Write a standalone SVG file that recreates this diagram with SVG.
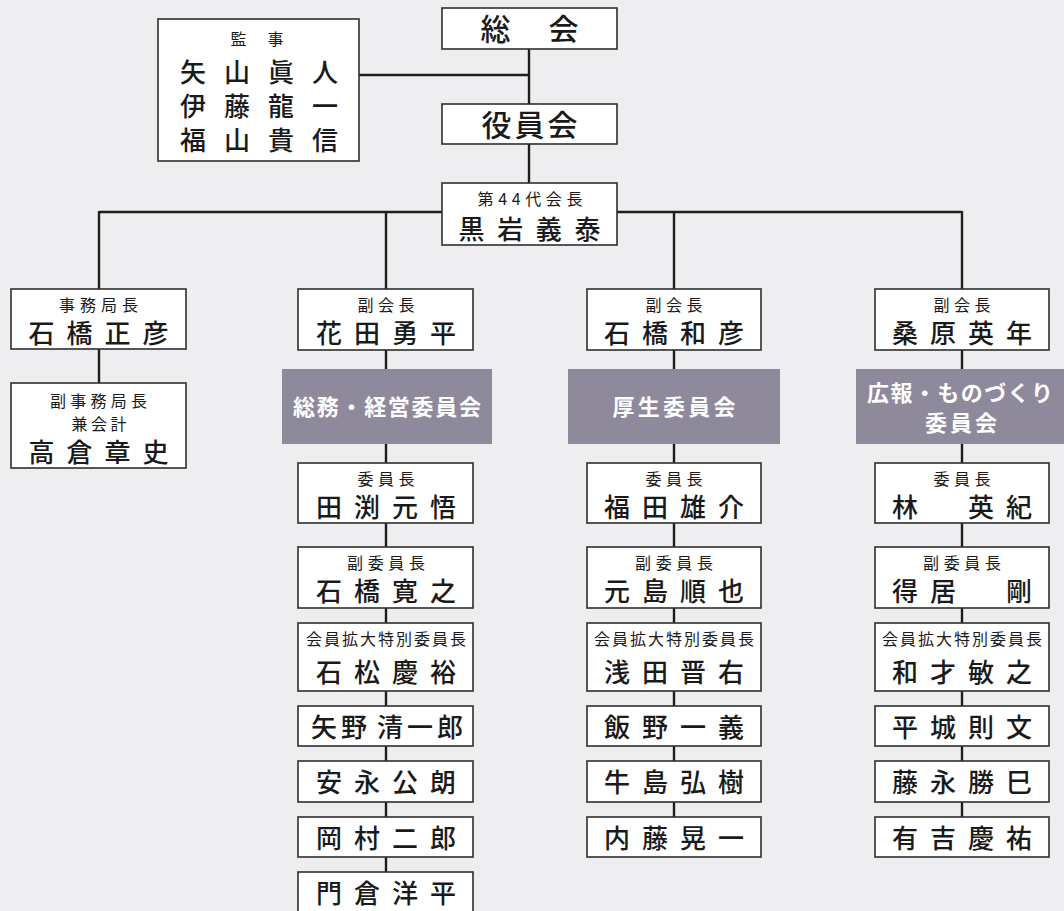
<svg xmlns="http://www.w3.org/2000/svg" width="1064" height="911" viewBox="0 0 1064 911">
<style>
.bg{fill:#eeeef1}
.box{fill:#ffffff;stroke:#2e2e2e;stroke-width:1.6}
.gray{fill:#8e899b}
.conn{stroke:#1e1e1e;stroke-width:2.4;fill:none}
text{font-family:"Noto Sans CJK JP","Noto Sans CJK SC",sans-serif;text-anchor:middle;fill:#1a1a1a}
.t{font-size:16px}
.n{font-size:26px;font-weight:500}
.big{font-size:30px;font-weight:500}
.g{font-size:22px;font-weight:700;fill:#ffffff}
</style>
<rect class="bg" x="0" y="0" width="1064" height="911"/>
<g id="connectors">
<line class="conn" x1="529" y1="49" x2="529" y2="104"/>
<line class="conn" x1="359" y1="75" x2="529" y2="75"/>
<line class="conn" x1="529" y1="144" x2="529" y2="183"/>
<line class="conn" x1="99" y1="212" x2="442" y2="212"/>
<line class="conn" x1="617" y1="212" x2="962" y2="212"/>
<line class="conn" x1="99" y1="211" x2="99" y2="289"/>
<line class="conn" x1="386" y1="212" x2="386" y2="289"/>
<line class="conn" x1="674" y1="212" x2="674" y2="289"/>
<line class="conn" x1="962" y1="211" x2="962" y2="289"/>
<line class="conn" x1="99" y1="349" x2="99" y2="383"/>
<path class="conn" d="M386 350V369M386 444V463M386 523V547M386 608V623M386 691V706M386 746V761M386 802V817M386 857V872"/>
<path class="conn" d="M674 350V369M674 444V463M674 523V547M674 608V623M674 691V706M674 746V761M674 802V817"/>
<path class="conn" d="M962 350V369M962 444V463M962 523V547M962 608V623M962 691V706M962 746V761M962 802V817"/>
</g>
<g id="soukai"><rect class="box" x="442" y="8" width="175" height="41"/><text class="big" x="529.5" y="40" textLength="98" lengthAdjust="spacing">総　会</text></g>
<g id="kanji"><rect class="box" x="158" y="19" width="201" height="142"/>
<text class="t" x="257" y="45" textLength="53" lengthAdjust="spacing">監　事</text>
<text class="n" x="259" y="82" textLength="158" lengthAdjust="spacing">矢山眞人</text>
<text class="n" x="259" y="116" textLength="158" lengthAdjust="spacing">伊藤龍一</text>
<text class="n" x="259" y="150" textLength="158" lengthAdjust="spacing">福山貴信</text></g>
<g id="yakuinkai"><rect class="box" x="442" y="104" width="175" height="40"/><text class="big" x="529.5" y="136" textLength="96" lengthAdjust="spacing">役員会</text></g>
<g id="kaicho"><rect class="box" x="442" y="183" width="175" height="62"/>
<text class="t" x="530" y="205" textLength="105" lengthAdjust="spacing">第44代会長</text>
<text class="n" x="529.5" y="239" textLength="142" lengthAdjust="spacing">黒岩義泰</text></g>
<!-- column 0 -->
<g id="jimukyokucho"><rect class="box" x="11" y="289" width="175" height="60"/>
<text class="t" x="98.5" y="311" textLength="79" lengthAdjust="spacing">事務局長</text>
<text class="n" x="98.5" y="343" textLength="140" lengthAdjust="spacing">石橋正彦</text></g>
<g id="fukujimukyokucho"><rect class="box" x="11" y="383" width="175" height="85"/>
<text class="t" x="98.5" y="407" textLength="97" lengthAdjust="spacing">副事務局長</text>
<text class="t" x="99" y="430" textLength="55" lengthAdjust="spacing">兼会計</text>
<text class="n" x="98.5" y="462" textLength="140" lengthAdjust="spacing">高倉章史</text></g>
<!-- column 1 -->
<g id="c1-fukukaicho"><rect class="box" x="298" y="289" width="175" height="61"/>
<text class="t" x="386" y="311" textLength="57" lengthAdjust="spacing">副会長</text>
<text class="n" x="386" y="343" textLength="140" lengthAdjust="spacing">花田勇平</text></g>
<g id="c1-committee"><rect class="gray" x="282" y="369" width="210" height="75"/>
<text class="g" x="387" y="415" textLength="188" lengthAdjust="spacing">総務・経営委員会</text></g>
<g id="c1-iincho"><rect class="box" x="298" y="463" width="175" height="60"/>
<text class="t" x="386" y="485" textLength="57" lengthAdjust="spacing">委員長</text>
<text class="n" x="386" y="517" textLength="140" lengthAdjust="spacing">田渕元悟</text></g>
<g id="c1-fukuiincho"><rect class="box" x="298" y="547" width="175" height="61"/>
<text class="t" x="386" y="569" textLength="78" lengthAdjust="spacing">副委員長</text>
<text class="n" x="386" y="601" textLength="140" lengthAdjust="spacing">石橋寛之</text></g>
<g id="c1-kakudai"><rect class="box" x="298" y="623" width="175" height="68"/>
<text class="t" x="386" y="645" textLength="160" lengthAdjust="spacing">会員拡大特別委員長</text>
<text class="n" x="386" y="682" textLength="140" lengthAdjust="spacing">石松慶裕</text></g>
<g id="c1-m1"><rect class="box" x="298" y="706" width="175" height="40"/>
<text class="n" x="339" y="737" textLength="56" lengthAdjust="spacing">矢野</text>
<text class="n" x="420" y="737" textLength="86" lengthAdjust="spacing">清一郎</text></g>
<g id="c1-m2"><rect class="box" x="298" y="761" width="175" height="41"/>
<text class="n" x="386" y="792" textLength="140" lengthAdjust="spacing">安永公朗</text></g>
<g id="c1-m3"><rect class="box" x="298" y="817" width="175" height="40"/>
<text class="n" x="386" y="848" textLength="140" lengthAdjust="spacing">岡村二郎</text></g>
<g id="c1-m4"><rect class="box" x="298" y="872" width="175" height="45"/>
<text class="n" x="386" y="903" textLength="140" lengthAdjust="spacing">門倉洋平</text></g>
<!-- column 2 -->
<g id="c2-fukukaicho"><rect class="box" x="587" y="289" width="174" height="61"/>
<text class="t" x="674" y="311" textLength="57" lengthAdjust="spacing">副会長</text>
<text class="n" x="674" y="343" textLength="140" lengthAdjust="spacing">石橋和彦</text></g>
<g id="c2-committee"><rect class="gray" x="568" y="369" width="212" height="75"/>
<text class="g" x="674" y="415" textLength="123" lengthAdjust="spacing">厚生委員会</text></g>
<g id="c2-iincho"><rect class="box" x="587" y="463" width="174" height="60"/>
<text class="t" x="674" y="485" textLength="57" lengthAdjust="spacing">委員長</text>
<text class="n" x="674" y="517" textLength="140" lengthAdjust="spacing">福田雄介</text></g>
<g id="c2-fukuiincho"><rect class="box" x="587" y="547" width="174" height="61"/>
<text class="t" x="674" y="569" textLength="78" lengthAdjust="spacing">副委員長</text>
<text class="n" x="674" y="601" textLength="140" lengthAdjust="spacing">元島順也</text></g>
<g id="c2-kakudai"><rect class="box" x="587" y="623" width="174" height="68"/>
<text class="t" x="674" y="645" textLength="160" lengthAdjust="spacing">会員拡大特別委員長</text>
<text class="n" x="674" y="682" textLength="140" lengthAdjust="spacing">浅田晋右</text></g>
<g id="c2-m1"><rect class="box" x="587" y="706" width="174" height="40"/>
<text class="n" x="674" y="737" textLength="140" lengthAdjust="spacing">飯野一義</text></g>
<g id="c2-m2"><rect class="box" x="587" y="761" width="174" height="41"/>
<text class="n" x="674" y="792" textLength="140" lengthAdjust="spacing">牛島弘樹</text></g>
<g id="c2-m3"><rect class="box" x="587" y="817" width="174" height="40"/>
<text class="n" x="674" y="848" textLength="140" lengthAdjust="spacing">内藤晃一</text></g>
<!-- column 3 -->
<g id="c3-fukukaicho"><rect class="box" x="875" y="289" width="174" height="61"/>
<text class="t" x="962" y="311" textLength="57" lengthAdjust="spacing">副会長</text>
<text class="n" x="962" y="343" textLength="140" lengthAdjust="spacing">桑原英年</text></g>
<g id="c3-committee"><rect class="gray" x="856" y="369" width="208" height="75"/>
<text class="g" x="960" y="401" textLength="186" lengthAdjust="spacing">広報・ものづくり</text>
<text class="g" x="961" y="431" textLength="72" lengthAdjust="spacing">委員会</text></g>
<g id="c3-iincho"><rect class="box" x="875" y="463" width="174" height="60"/>
<text class="t" x="962" y="485" textLength="57" lengthAdjust="spacing">委員長</text>
<text class="n" x="962" y="517" textLength="140" lengthAdjust="spacing">林　英紀</text></g>
<g id="c3-fukuiincho"><rect class="box" x="875" y="547" width="174" height="61"/>
<text class="t" x="962" y="569" textLength="78" lengthAdjust="spacing">副委員長</text>
<text class="n" x="962" y="601" textLength="140" lengthAdjust="spacing">得居　剛</text></g>
<g id="c3-kakudai"><rect class="box" x="875" y="623" width="174" height="68"/>
<text class="t" x="962" y="645" textLength="160" lengthAdjust="spacing">会員拡大特別委員長</text>
<text class="n" x="962" y="682" textLength="140" lengthAdjust="spacing">和才敏之</text></g>
<g id="c3-m1"><rect class="box" x="875" y="706" width="174" height="40"/>
<text class="n" x="962" y="737" textLength="140" lengthAdjust="spacing">平城則文</text></g>
<g id="c3-m2"><rect class="box" x="875" y="761" width="174" height="41"/>
<text class="n" x="962" y="792" textLength="140" lengthAdjust="spacing">藤永勝巳</text></g>
<g id="c3-m3"><rect class="box" x="875" y="817" width="174" height="40"/>
<text class="n" x="962" y="848" textLength="140" lengthAdjust="spacing">有吉慶祐</text></g>
</svg>
